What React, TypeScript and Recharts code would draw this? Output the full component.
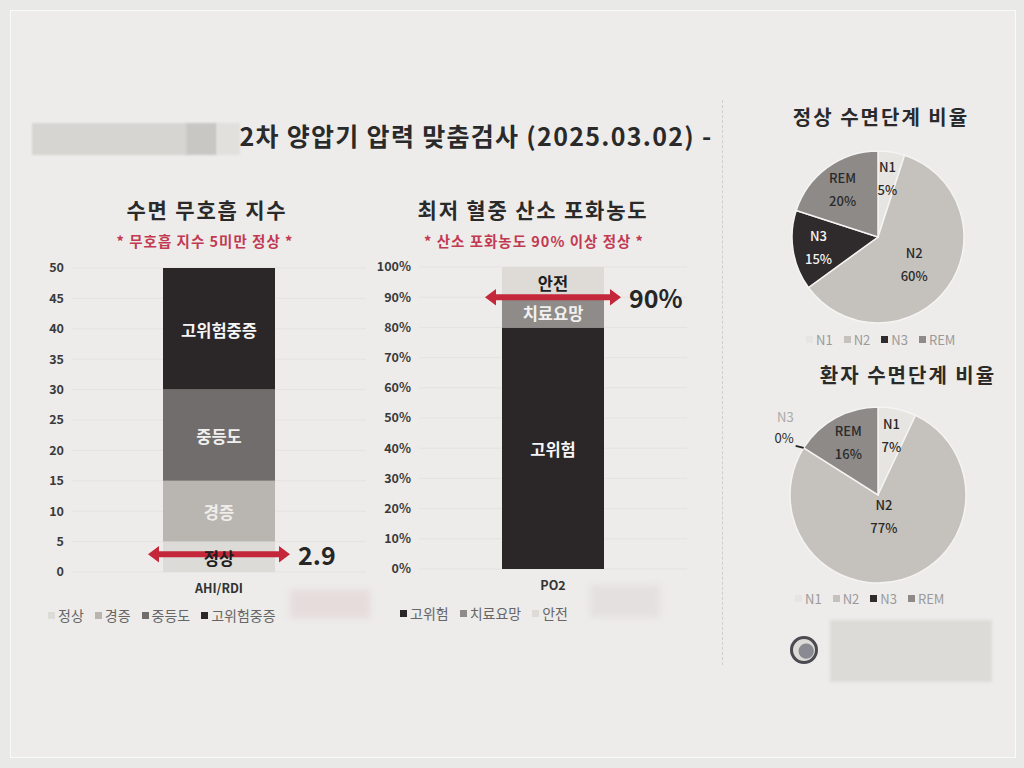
import React from 'react';
import {
  BarChart, Bar, XAxis, YAxis, CartesianGrid, ReferenceLine, LabelList,
  PieChart, Pie, Cell,
} from 'recharts';

const FONT = '"Noto Sans CJK KR", "Noto Sans", sans-serif';

// 수면 무호흡 지수 (AHI/RDI) – 구간별 누적 막대
const ahiCategory = 'AHI/RDI';
const ahiBands = ['정상', '경증', '중등도', '고위험중증'];
const ahiBandSizes = [5, 10, 15, 20];
const ahiColors = ['#dddbd7', '#b9b6b2', '#716d6c', '#2b2628'];
const ahiLabelColors = ['#1e1e1e', '#efedea', '#f2f0ee', '#f5f5f5'];
const ahiTicks = [0, 5, 10, 15, 20, 25, 30, 35, 40, 45, 50];
const ahiPatient = 2.9;

// 최저 혈중 산소 포화농도 (PO2)
const po2Category = 'PO2';
const po2Bands = ['고위험', '치료요망', '안전'];
const po2BandSizes = [80, 10, 10];
const po2Colors = ['#2b2628', '#8f8b89', '#dedbd6'];
const po2LabelColors = ['#f5f5f5', '#f2f0ee', '#1e1e1e'];
const po2Ticks = [0, 10, 20, 30, 40, 50, 60, 70, 80, 90, 100];
const po2Patient = 90;

// 수면단계 비율
const stageNames = ['N1', 'N2', 'N3', 'REM'];
const stageColors = ['#e7e5e2', '#c5c1bc', '#2f2a2c', '#8e8a88'];
const stageTextColors = ['#2a2a2a', '#2a2a2a', '#f4f4f4', '#2a2a2a'];
const normalStages = [5, 60, 15, 20];
const patientStages = [7, 77, 0, 16];

const toRow = (cat: string, bands: string[], sizes: number[]) => {
  const row: Record<string, string | number> = { name: cat };
  bands.forEach((b, i) => (row[b] = sizes[i]));
  return row;
};

const arrowShape = (half: number, big: string) => (props: any) => {
  const { x1, x2, y1 } = props;
  const cx = (x1 + x2) / 2;
  const l = cx - half;
  const r = cx + half;
  const y = y1;
  const h = 11;
  const t = 3;
  const pts = [
    [l, y], [l + h, y - h * 0.75], [l + h, y - t], [r - h, y - t], [r - h, y - h * 0.75],
    [r, y], [r - h, y + h * 0.75], [r - h, y + t], [l + h, y + t], [l + h, y + h * 0.75],
  ].map((p) => p.join(',')).join(' ');
  return (
    <g>
      <polygon points={pts} fill="#c4273a" />
      <text x={r + 8} y={y} dominantBaseline="central" fontSize={25} fontWeight={700}
        fill="#262626" fontFamily={FONT}>{big}</text>
    </g>
  );
};

const Legend = ({ names, colors, style, textColor = '#666' }: any) => (
  <div style={{ position: 'absolute', display: 'flex', gap: 11, fontSize: 14, color: textColor, fontFamily: FONT, whiteSpace: 'nowrap', ...style }}>
    {names.map((n: string, i: number) => (
      <span key={n} style={{ display: 'flex', alignItems: 'center' }}>
        <span style={{ width: 7, height: 7, background: colors[i], marginRight: 3, display: 'inline-block' }} />
        {n}
      </span>
    ))}
  </div>
);

const Title = ({ text, x, y, size, color = '#2a2a2a', weight = 700, spacing = 0 }: any) => (
  <div style={{ position: 'absolute', left: x - 300, top: y - size * 0.75, width: 600, textAlign: 'center', fontSize: size, fontWeight: weight, color, fontFamily: FONT, whiteSpace: 'nowrap', letterSpacing: spacing }}>
    {text}
  </div>
);

const StackChart = ({ left, top, width, height, yWidth, category, bands, sizes, colors, labelColors, ticks, fmt, patient, half, big, barSize }: any) => (
  <div style={{ position: 'absolute', left, top }}>
    <BarChart width={width} height={height} data={[toRow(category, bands, sizes)]}
      margin={{ top: 14, right: 0, bottom: 0, left: 0 }} style={{ fontFamily: FONT }}>
      <CartesianGrid vertical={false} stroke="#e4e3e0" />
      <XAxis dataKey="name" axisLine={false} tickLine={false} height={32} tickSize={0} tickMargin={12}
        tick={{ fill: '#333', fontSize: 12.5, fontWeight: 600 }} />
      <YAxis width={yWidth} domain={[0, ticks[ticks.length - 1]]} ticks={ticks} axisLine={false} tickLine={false}
        tickSize={0} tickMargin={8} tickFormatter={fmt} interval={0}
        tick={{ fill: '#3a3a3a', fontSize: 12.5, fontWeight: 600 }} />
      {bands.map((b: string, i: number) => (
        <Bar key={b} dataKey={b} stackId="s" fill={colors[i]} barSize={barSize} isAnimationActive={false}>
          <LabelList dataKey={b} position="center" content={(p: any) => (
            <text x={p.x + p.width / 2} y={p.y + p.height / 2 + 1} textAnchor="middle" dominantBaseline="central"
              fontSize={16.5} fontWeight={700} fill={labelColors[i]} fontFamily={FONT}>{b}</text>
          )} />
        </Bar>
      ))}
      <ReferenceLine y={patient} stroke="none" shape={arrowShape(half, big)} ifOverflow="visible" />
    </BarChart>
  </div>
);

const RADIAN = Math.PI / 180;

const PieBlock = ({ left, top, values, mainR, radius, showZero }: any) => {
  const data = stageNames.map((n, i) => ({ name: n, value: values[i] }));
  const renderLabel = (p: any) => {
    const { cx, cy, midAngle, outerRadius, percent, index } = p;
    if (values[index] === 0) {
      if (!showZero) return null;
      const ex = cx + outerRadius * Math.cos(-midAngle * RADIAN);
      const ey = cy + outerRadius * Math.sin(-midAngle * RADIAN);
      return (
        <g fontFamily={FONT} fontSize={13}>
          <line x1={ex} y1={ey} x2={ex - 8} y2={ey - 2} stroke="#222" strokeWidth={2} />
          <text x={ex - 10} y={ey - 26} textAnchor="end" fill="#aaa">{stageNames[index]}</text>
          <text x={ex - 10} y={ey - 5} textAnchor="end" fill="#2a2a2a">{values[index]}%</text>
        </g>
      );
    }
    const f = percent > 0.5 ? mainR : 0.7;
    const x = cx + outerRadius * f * Math.cos(-midAngle * RADIAN);
    const y = cy + outerRadius * f * Math.sin(-midAngle * RADIAN);
    return (
      <g fontFamily={FONT} fontSize={13} fontWeight={500} fill={stageTextColors[index]}>
        <text x={x} y={y - 11} textAnchor="middle" dominantBaseline="central">{stageNames[index]}</text>
        <text x={x} y={y + 12} textAnchor="middle" dominantBaseline="central">{values[index]}%</text>
      </g>
    );
  };
  return (
    <div style={{ position: 'absolute', left, top }}>
      <PieChart width={250} height={200}>
        <Pie data={data} dataKey="value" cx={125} cy={100} outerRadius={radius} startAngle={90} endAngle={-270}
          stroke="#f4f4f2" strokeWidth={1.5} label={renderLabel} labelLine={false} isAnimationActive={false}>
          {data.map((d, i) => <Cell key={d.name} fill={stageColors[i]} />)}
        </Pie>
      </PieChart>
    </div>
  );
};

export default function App() {
  return (
    <div style={{ position: 'absolute', left: 0, top: 0, width: 1024, height: 768, background: '#e9e9e7', overflow: 'hidden', fontFamily: FONT }}>
      <div style={{ position: 'absolute', left: 10, top: 10, width: 1004, height: 746, border: '1.5px solid #fafaf8', background: '#edecea' }} />

      {/* 가림 처리된 영역 */}
      <div style={{ position: 'absolute', left: 32, top: 123, width: 155, height: 32, background: '#d6d5d2', filter: 'blur(1px)' }} />
      <div style={{ position: 'absolute', left: 186, top: 123, width: 31, height: 32, background: '#c9c7c4', filter: 'blur(1px)' }} />
      <div style={{ position: 'absolute', left: 217, top: 123, width: 23, height: 32, background: '#e1e0dd', filter: 'blur(1px)' }} />
      <div style={{ position: 'absolute', left: 290, top: 590, width: 80, height: 28, background: '#e6dcdc', filter: 'blur(3px)' }} />
      <div style={{ position: 'absolute', left: 590, top: 585, width: 70, height: 32, background: '#e4e0df', filter: 'blur(3px)' }} />
      <div style={{ position: 'absolute', left: 830, top: 620, width: 162, height: 62, background: '#dcdbd8', filter: 'blur(1.5px)' }} />
      <div style={{ position: 'absolute', left: 790, top: 636, width: 28, height: 28, borderRadius: '50%', border: '3px solid #4a4a50', boxSizing: 'border-box', background: 'radial-gradient(circle at 60% 55%, #8a8a92 40%, #dcdbd8 45%)' }} />

      <Title text="2차 양압기 압력 맞춤검사 (2025.03.02) -" x={476} y={136} size={25} weight={600} spacing={1.3} />

      <Title text="수면 무호흡 지수" x={207} y={210} size={21} spacing={1.8} />
      <Title text="* 무호흡 지수 5미만 정상 *" x={205} y={241} size={14.5} color="#c23a52" spacing={1} />
      <Title text="최저 혈중 산소 포화농도" x={533} y={210} size={21} spacing={1.8} />
      <Title text="* 산소 포화농도 90% 이상 정상 *" x={534} y={241} size={14.5} color="#c23a52" spacing={1} />

      <StackChart left={20} top={254} width={346} height={350} yWidth={52} category={ahiCategory}
        bands={ahiBands} sizes={ahiBandSizes} colors={ahiColors} labelColors={ahiLabelColors}
        ticks={ahiTicks} fmt={(v: number) => `${v}`} patient={ahiPatient} half={71} big={`${ahiPatient}`} barSize={112} />
      <Legend names={ahiBands} colors={ahiColors} style={{ left: 48, top: 605 }} />

      <StackChart left={355} top={253} width={332} height={348} yWidth={64} category={po2Category}
        bands={po2Bands} sizes={po2BandSizes} colors={po2Colors} labelColors={po2LabelColors}
        ticks={po2Ticks} fmt={(v: number) => `${v}%`} patient={po2Patient} half={68} big={`${po2Patient}%`} barSize={102} />
      <Legend names={po2Bands} colors={po2Colors} style={{ left: 400, top: 603 }} />

      <div style={{ position: 'absolute', left: 722, top: 100, height: 565, borderLeft: '1.5px dashed #cfcecb' }} />

      <Title text="정상 수면단계 비율" x={881} y={117} size={20} spacing={2} />
      <PieBlock left={748} top={132} values={normalStages} mainR={0.52} radius={86} />
      <Legend names={stageNames} colors={stageColors} textColor="#9a9a9a" style={{ left: 806, top: 330, fontSize: 13 }} />

      <Title text="환자 수면단계 비율" x={908} y={375} size={20} spacing={2} />
      <PieBlock left={748} top={390} values={patientStages} mainR={0.24} radius={88} showZero />
      <Legend names={stageNames} colors={stageColors} textColor="#9a9a9a" style={{ left: 795, top: 589, fontSize: 13 }} />
    </div>
  );
}
